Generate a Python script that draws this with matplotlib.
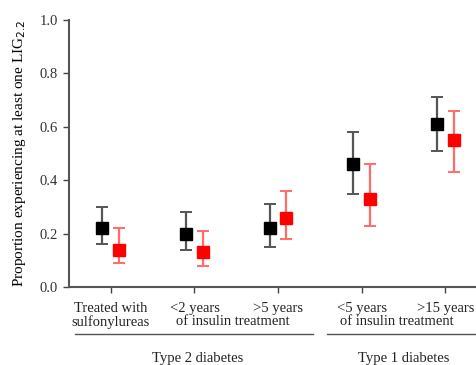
import matplotlib.pyplot as plt
import matplotlib.transforms as mtransforms
import numpy as np

plt.rcParams['font.family'] = ['Liberation Serif', 'DejaVu Serif']

# categories along the x axis
tick_labels = ['Treated with\nsulfonylureas', '<2 years', '>5 years', '<5 years', '>15 years']

# black series: point, lower, upper
black_val = [0.22, 0.20, 0.22, 0.46, 0.61]
black_lo = [0.16, 0.14, 0.15, 0.35, 0.51]
black_hi = [0.30, 0.28, 0.31, 0.58, 0.71]

# red series
red_val = [0.14, 0.13, 0.26, 0.33, 0.55]
red_lo = [0.09, 0.08, 0.18, 0.23, 0.43]
red_hi = [0.22, 0.21, 0.36, 0.46, 0.66]

fs = 10.5

fig = plt.figure(figsize=(4.77, 3.65), dpi=100)
ax = fig.add_axes([69 / 477, 78 / 365, 409 / 477, 267 / 365])

x = np.arange(len(tick_labels))
off = 0.1

bv, rv = np.array(black_val), np.array(red_val)
ax.errorbar(x - off, bv, yerr=[bv - black_lo, np.array(black_hi) - bv],
            fmt='s', color='black', ms=9, ecolor='#555555', elinewidth=1.6,
            capsize=4, capthick=1.4, zorder=3)
ax.errorbar(x + off, rv, yerr=[rv - red_lo, np.array(red_hi) - rv],
            fmt='s', color='#ff0000', ms=9, ecolor='#ff6b6b', elinewidth=1.6,
            capsize=4, capthick=1.4, zorder=3)

ax.set_xlim(-0.5, 4.39)
ax.set_ylim(0, 1.0)
ax.set_yticks(np.arange(0, 1.01, 0.2))
ax.set_yticklabels([f'{v:.1f}' for v in np.arange(0, 1.01, 0.2)], fontsize=fs, color='#333333')
ax.set_xticks(x)
ax.set_xticklabels(tick_labels, fontsize=fs, linespacing=1.0, color='#222222')
ax.tick_params(axis='both', direction='out', length=4, width=1, color='#444444')
ax.tick_params(axis='x', pad=7)
ax.tick_params(axis='y', pad=4)

for s in ['top', 'right']:
    ax.spines[s].set_visible(False)
for s in ['left', 'bottom']:
    ax.spines[s].set_color('#555555')
    ax.spines[s].set_linewidth(1.5)

ax.set_ylabel('Proportion experiencing at least one LIG$_{2.2}$', fontsize=11, labelpad=8)

trans = mtransforms.blended_transform_factory(ax.transData, ax.transAxes)
# second line of the insulin groups
for cx in [1.46, 3.42]:
    ax.text(cx, -0.13, 'of insulin treatment', transform=trans, ha='center',
            va='center', fontsize=fs, color='#222222')

# group lines and labels
groups = [('Type 2 diabetes', -0.43, 2.42, 1.04), ('Type 1 diabetes', 2.58, 4.45, 3.5)]
for name, x0, x1, cx in groups:
    ax.plot([x0, x1], [-0.176, -0.176], transform=trans, color='#555555', lw=1, clip_on=False)
    ax.text(cx, -0.266, name, transform=trans, ha='center', va='center', fontsize=fs, color='#222222')

fig.savefig('out.png', dpi=100)
